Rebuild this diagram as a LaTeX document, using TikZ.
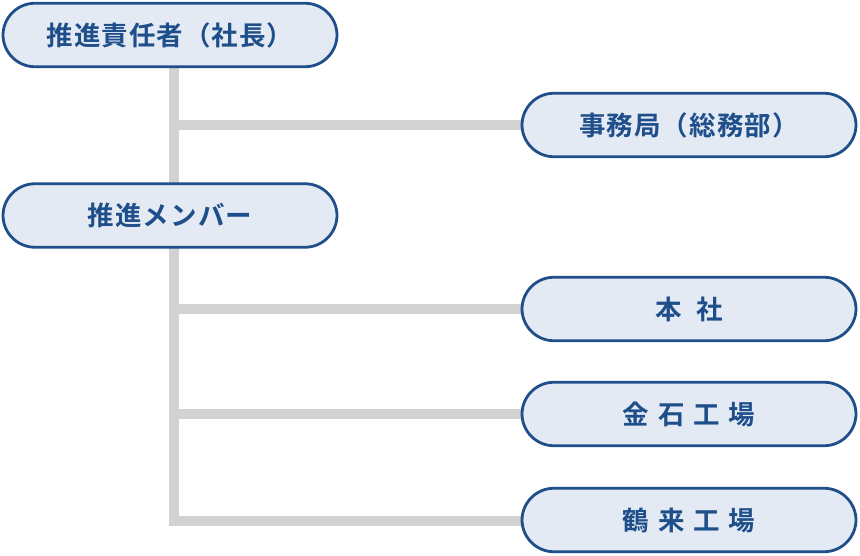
\documentclass[tikz,border=0pt]{standalone}
\usepackage{fontspec}
\usepackage{tikz}
\usetikzlibrary{backgrounds}
\setmainfont{Noto Sans CJK JP}[BoldFont={Noto Sans CJK JP Bold}]
\newfontfamily\jpfont{Noto Sans CJK JP Bold}[LetterSpace=4]
\newfontfamily\jpwide{Noto Sans CJK JP Bold}[LetterSpace=33]
\definecolor{navy}{HTML}{1F4F8B}
\definecolor{pale}{HTML}{E4EAF3}
\definecolor{rail}{HTML}{D2D2D2}
\tikzset{box/.style={draw=navy,fill=pale,line width=2.8pt,rounded corners=32pt,
    minimum width=334pt,minimum height=63.5pt,inner sep=0pt,text=navy,
    font=\fontsize{26.5}{26.5}\selectfont\jpfont}}
\tikzset{wide/.style={font=\fontsize{26.5}{26.5}\selectfont\jpwide}}
\tikzset{trunk/.style={draw=rail,line width=10pt,line join=miter}}

\begin{document}
\begin{tikzpicture}[x=1pt,y=-1pt]
        \useasboundingbox (0,0) rectangle (860,556);
        \node[box] (head) at (170,35) {推進責任者（社長）};
        \node[box] (member) at (170,215.5) {推進メンバー};
        \node[box] (office) at (689,125) {事務局（総務部）};
        \node[box,wide] (honsha) at (689,309) {本\hspace{15pt}社};
        \node[box,wide] (kanaiwa) at (689,414) {金石工場};
        \node[box,wide] (tsurugi) at (689,520) {鶴来工場};
        \coordinate (j1) at (174,125);
        \coordinate (h1) at (174,309);
        \coordinate (k1) at (174,414);
        \coordinate (t1) at (174,521);
        \begin{scope}[on background layer]
          \draw[trunk] (t1 |- head) -- (t1) -- (t1 -| tsurugi.west);
          \draw[trunk] (j1) -- (office.west);
          \draw[trunk] (h1) -- (honsha.west);
          \draw[trunk] (k1) -- (kanaiwa.west);
        \end{scope}
      \end{tikzpicture}
\end{document}
